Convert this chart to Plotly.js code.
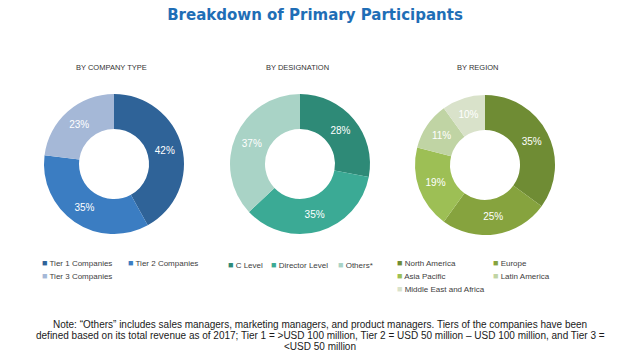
<!DOCTYPE html>
<html><head><meta charset="utf-8">
<script src="https://cdn.plot.ly/plotly-3.0.1.min.js"></script>
<style>html,body{margin:0;padding:0;background:#fff}#chart{width:639px;height:364px}</style>
</head><body><div id="chart"></div>
<script>
const chartTitle = 'Breakdown of Primary Participants';
const subTitles = ['BY COMPANY TYPE', 'BY DESIGNATION', 'BY REGION'];

const companyLabels = ['Tier 1 Companies', 'Tier 2 Companies', 'Tier 3 Companies'];
const companyValues = [42, 35, 23];
const designationLabels = ['C Level', 'Director Level', 'Others*'];
const designationValues = [28, 35, 37];
const regionLabels = ['North America', 'Europe', 'Asia Pacific', 'Latin America', 'Middle East and Africa'];
const regionValues = [35, 25, 19, 11, 10];

const noteLines = [
  'Note: \u201cOthers\u201d includes sales managers, marketing managers, and product managers. Tiers of the companies have been',
  'defined based on its total revenue as of 2017; Tier 1 = >USD 100 million, Tier 2 = USD 50 million \u2013 USD 100 million, and Tier 3 =',
  '<USD 50 million'
];

// styles
const companyColors = ['#2F6398', '#3B7DC2', '#A5B8D7'];
const designationColors = ['#2E8A77', '#3BAA95', '#A9D3C6'];
const regionColors = ['#6F8C34', '#86A33E', '#9DBF55', '#C0D4A4', '#D9E2CA'];

const W = 639, H = 364;
const px = x => x / W;
const py = y => 1 - y / H;

const pies = [
  {labels: companyLabels, values: companyValues, colors: companyColors, x0: 44, x1: 184, y0: 94, y1: 234, titleX: 111,
   legendPos: [[40, 263], [126, 263], [40, 276]]},
  {labels: designationLabels, values: designationValues, colors: designationColors, x0: 230, x1: 370, y0: 94, y1: 234, titleX: 297,
   legendPos: [[226, 265], [269, 265], [336, 265]]},
  {labels: regionLabels, values: regionValues, colors: regionColors, x0: 415, x1: 555, y0: 95, y1: 235, titleX: 478,
   legendPos: [[395, 263], [491, 263], [395, 276], [491, 276], [395, 289]]}
];

const traces = pies.map(p => ({
  type: 'pie',
  labels: p.labels,
  values: p.values,
  hole: 0.5,
  sort: false,
  direction: 'clockwise',
  rotation: 0,
  domain: {x: [px(p.x0), px(p.x1)], y: [py(p.y1), py(p.y0)]},
  marker: {colors: p.colors, line: {width: 0}},
  texttemplate: '%{value}%',
  textposition: 'inside',
  insidetextorientation: 'horizontal',
  textfont: {family: 'Liberation Sans', size: 10, color: '#ffffff'},
  showlegend: false,
  hoverinfo: 'label+value'
}));

const annotations = [];
pies.forEach((p, i) => {
  annotations.push({
    text: subTitles[i], x: px(p.titleX), y: py(67), xref: 'paper', yref: 'paper',
    xanchor: 'center', yanchor: 'middle', showarrow: false,
    font: {family: 'Liberation Sans', size: 7.5, color: '#333333'}
  });
  p.labels.forEach((lab, j) => {
    annotations.push({
      text: '<span style="color:' + p.colors[j] + ';font-size:9px">\u25A0</span> ' + lab,
      x: px(p.legendPos[j][0]), y: py(p.legendPos[j][1]), xref: 'paper', yref: 'paper',
      xanchor: 'left', yanchor: 'middle', showarrow: false,
      font: {family: 'Liberation Sans', size: 8, color: '#404040'}
    });
  });
});
const noteY = [324, 335, 346];
noteLines.forEach((line, k) => {
  annotations.push({
    text: line, x: px(320), y: py(noteY[k]), xref: 'paper', yref: 'paper',
    xanchor: 'center', yanchor: 'middle', showarrow: false, align: 'center',
    font: {family: 'Liberation Sans', size: 10, color: '#1a1a1a'}
  });
});

const layout = {
  width: W, height: H,
  margin: {l: 0, r: 0, t: 0, b: 0},
  paper_bgcolor: '#ffffff',
  title: {text: '<b>' + chartTitle + '</b>', x: px(315), xanchor: 'center', y: py(15), yanchor: 'middle',
          xref: 'paper', yref: 'paper', font: {family: 'DejaVu Sans', size: 15, color: '#1F6EB6'}},
  annotations: annotations,
  showlegend: false
};

Plotly.newPlot('chart', traces, layout, {displayModeBar: false, staticPlot: true});
</script></body></html>
